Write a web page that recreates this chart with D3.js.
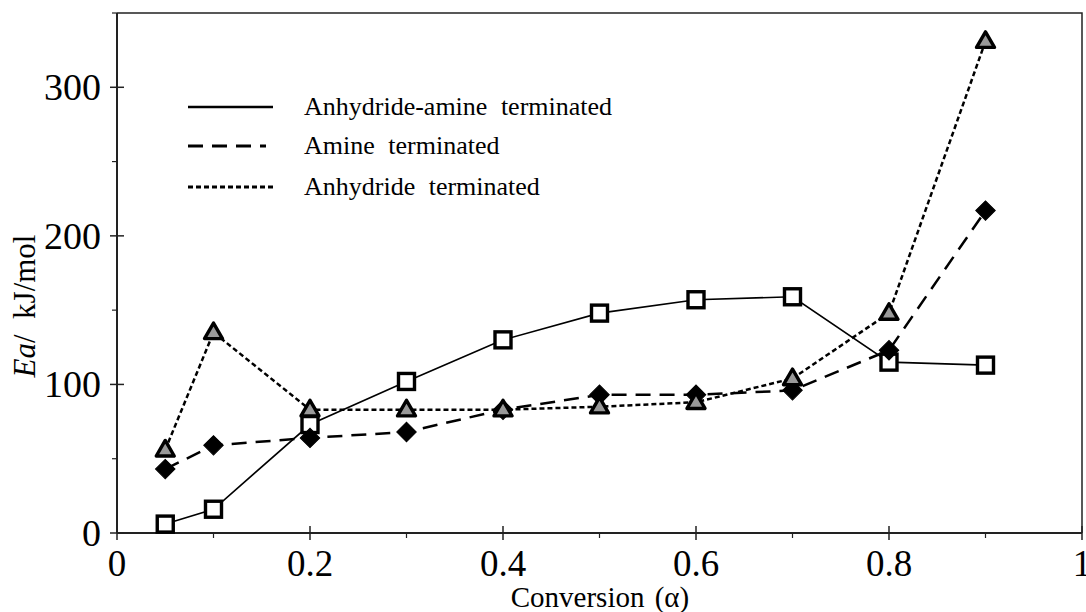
<!DOCTYPE html>
<html>
<head>
<meta charset="utf-8">
<script src="https://cdn.jsdelivr.net/npm/d3@7.9.0/dist/d3.min.js"></script>
<style>
  body { margin: 0; background: #fff; }
  svg text { font-family: "Liberation Serif", "Times New Roman", serif; fill: #000; }
</style>
</head>
<body>
<svg id="chart" width="1086" height="612"></svg>
<script>
const conversion = [0.05, 0.1, 0.2, 0.3, 0.4, 0.5, 0.6, 0.7, 0.8, 0.9];
const anhydrideAmine = [6, 16, 73, 102, 130, 148, 157, 159, 115, 113];
const amineTerm = [43, 59, 64, 68, 83, 93, 93, 96, 123, 217];
const anhydrideTerm = [56, 135, 83, 83, 83, 85, 88, 104, 148, 331];
const seriesNames = ['Anhydride-amine terminated', 'Amine terminated', 'Anhydride terminated'];
const xTicks = [0, 0.2, 0.4, 0.6, 0.8, 1];
const yTicks = [0, 100, 200, 300];

const svg = d3.select('#chart');
const m = { left: 117, right: 1082, top: 13, bottom: 533 };

const x = d3.scaleLinear().domain([0, 1]).range([m.left, m.right]);
const y = d3.scaleLinear().domain([0, 350]).range([m.bottom, m.top]);

// box (top & right sides)
svg.append('path')
  .attr('d', `M${m.left},${m.top}H${m.right}V${m.bottom}`)
  .attr('fill', 'none').attr('stroke', '#222').attr('stroke-width', 1.5);

// x axis
const xAxis = svg.append('g').attr('transform', `translate(0,${m.bottom})`);
xAxis.append('line').attr('x1', m.left).attr('x2', m.right)
  .attr('stroke', '#222').attr('stroke-width', 2);
xAxis.selectAll('.minor').data(d3.range(1, 10, 2).map(d => d / 10)).join('line')
  .attr('x1', d => x(d)).attr('x2', d => x(d)).attr('y1', 0).attr('y2', 5)
  .attr('stroke', '#222').attr('stroke-width', 1.2);
xAxis.selectAll('.major').data(xTicks).join('line')
  .attr('x1', d => x(d)).attr('x2', d => x(d)).attr('y1', -7).attr('y2', 7)
  .attr('stroke', '#222').attr('stroke-width', 1.5);
xAxis.selectAll('text').data(xTicks).join('text')
  .attr('x', d => x(d)).attr('y', 43)
  .attr('text-anchor', 'middle').attr('font-size', 37)
  .text(d => d === 0 || d === 1 ? String(d) : d.toFixed(1));

// y axis
const yAxis = svg.append('g').attr('transform', `translate(${m.left},0)`);
yAxis.append('line').attr('y1', m.top).attr('y2', m.bottom)
  .attr('stroke', '#222').attr('stroke-width', 2);
yAxis.selectAll('.minor').data([50, 150, 250, 350]).join('line')
  .attr('y1', d => y(d)).attr('y2', d => y(d)).attr('x1', -5).attr('x2', 0)
  .attr('stroke', '#222').attr('stroke-width', 1.2);
yAxis.selectAll('.major').data(yTicks).join('line')
  .attr('y1', d => y(d)).attr('y2', d => y(d)).attr('x1', -7).attr('x2', 7)
  .attr('stroke', '#222').attr('stroke-width', 1.5);
yAxis.selectAll('text').data(yTicks).join('text')
  .attr('x', -16).attr('y', d => y(d) + 13)
  .attr('text-anchor', 'end').attr('font-size', 38)
  .text(d => d);

// axis titles
svg.append('text').attr('x', 600).attr('y', 607)
  .attr('text-anchor', 'middle').attr('font-size', 29)
  .attr('word-spacing', 3)
  .text('Conversion (α)');
const yTitle = svg.append('text')
  .attr('transform', 'translate(35,306) rotate(-90)')
  .attr('text-anchor', 'middle').attr('font-size', 31)
  .attr('xml:space', 'preserve');
yTitle.append('tspan').attr('font-style', 'italic').text('Ea');
yTitle.append('tspan').text('/  kJ/mol');

// lines
const styles = [
  { data: anhydrideAmine, dash: null, width: 1.6 },
  { data: amineTerm, dash: '15,9', width: 2.5 },
  { data: anhydrideTerm, dash: '5,3', width: 2.5 }
];
const line = d3.line().x((d, i) => x(conversion[i])).y(d => y(d));
styles.forEach(s => {
  svg.append('path').attr('d', line(s.data))
    .attr('fill', 'none').attr('stroke', '#000')
    .attr('stroke-width', s.width)
    .attr('stroke-dasharray', s.dash);
});

// markers: squares, diamonds, triangles
svg.append('g').selectAll('rect').data(anhydrideAmine).join('rect')
  .attr('x', (d, i) => x(conversion[i]) - 8).attr('y', d => y(d) - 8)
  .attr('width', 16).attr('height', 16)
  .attr('fill', '#fff').attr('stroke', '#000').attr('stroke-width', 3.4);

const diamond = d3.symbol().type(d3.symbolSquare).size(190);
svg.append('g').selectAll('path').data(amineTerm).join('path')
  .attr('d', diamond)
  .attr('transform', (d, i) => `translate(${x(conversion[i])},${y(d)}) rotate(45)`)
  .attr('fill', '#000').attr('stroke', '#000').attr('stroke-width', 1);

const tri = d3.symbol().type(d3.symbolTriangle).size(140);
svg.append('g').selectAll('path').data(anhydrideTerm).join('path')
  .attr('d', tri)
  .attr('transform', (d, i) => `translate(${x(conversion[i])},${y(d) + 1})`)
  .attr('fill', '#999').attr('stroke', '#000').attr('stroke-width', 3.4)
  .attr('stroke-linejoin', 'round');

// legend
const legend = svg.append('g');
const legendY = [107, 146, 187];
seriesNames.forEach((name, i) => {
  legend.append('line')
    .attr('x1', 188).attr('x2', i === 1 ? 266 : 273)
    .attr('y1', legendY[i]).attr('y2', legendY[i])
    .attr('stroke', '#000').attr('stroke-width', i === 0 ? 2.5 : 3)
    .attr('stroke-dasharray', styles[i].dash);
  legend.append('text')
    .attr('x', 304).attr('y', legendY[i] + 8)
    .attr('font-size', 26).attr('word-spacing', 7)
    .text(name);
});
</script>
</body>
</html>
